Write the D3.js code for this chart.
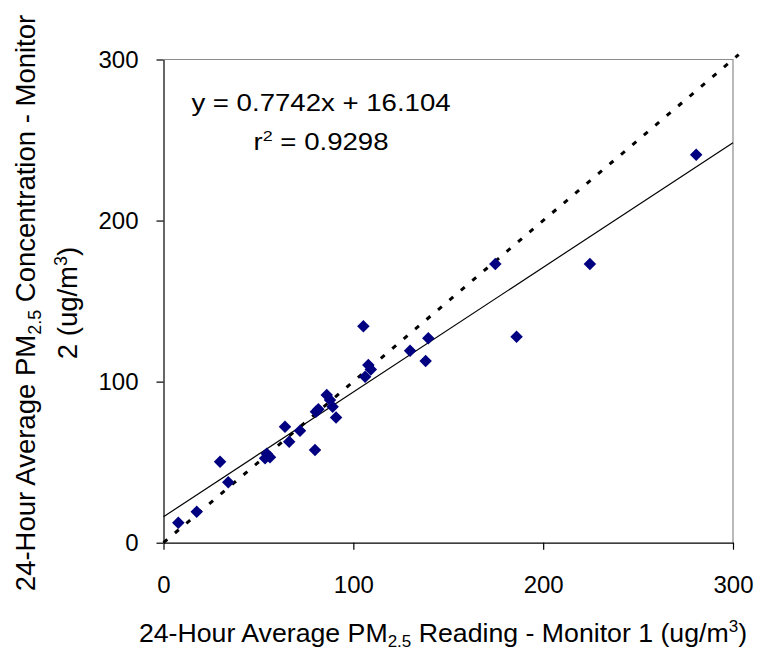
<!DOCTYPE html>
<html>
<head>
<meta charset="utf-8">
<script src="https://cdn.jsdelivr.net/npm/d3@7"></script>
<style>
    body { margin: 0; background: #fff; }
    text { font-family: "Liberation Sans", Arial, sans-serif; fill: #000; }
</style>
</head>
<body>
<svg id="mainFrame"></svg>
<script>
// Paired 24-hour PM2.5 readings (ug/m3).
const monitor1 = [7.8, 17.5, 29.8, 34.1, 53.5, 54.4, 56.1, 64, 66.2, 71.9, 79.8, 80.3, 81.6, 86,
    87.7, 89.1, 90.9, 105.3, 106.2, 107.9, 109.2, 129.9, 138.1, 139.5, 174.8, 186, 224.6, 280.6];
const monitor2 = [12.4, 19.2, 50.2, 37.5, 52.4, 55.3, 53.0, 72, 62.7, 69.5, 57.5, 81.3, 82.8, 91.7,
    88.6, 84.4, 77.8, 134.4, 103, 110.3, 107.6, 119.2, 112.8, 126.9, 173.1, 127.8, 173.1, 240.8];

// Trendline as printed on the chart, plus the 1:1 reference line.
const slope = 0.7742;
const intercept = 16.104;
const rSquared = 0.9298;
const trendX = [0, 300];
const oneToOne = [0, 303];

const tickValues = [0, 100, 200, 300];

const width = 761, height = 654;
const svg = d3.select('#mainFrame')
    .attr('width', width)
    .attr('height', height);

// Plot area bounds in pixels.
const margin = { top: 59.5, right: 28, bottom: 111.3, left: 163.5 };
const innerW = width - margin.left - margin.right;
const innerH = height - margin.top - margin.bottom;

const g = svg.append('g')
    .attr('transform', `translate(${margin.left},${margin.top})`);

const x = d3.scaleLinear().domain([0, 300]).range([0, innerW]);
const y = d3.scaleLinear().domain([0, 300]).range([innerH, 0]);

// Grey frame on top and right, black axis lines on left and bottom.
g.append('path')
    .attr('d', `M0,0H${innerW}V${innerH}`)
    .attr('fill', 'none')
    .attr('stroke', '#8c8c8c')
    .attr('stroke-width', 1.2);

const xAxis = g.append('g')
    .attr('transform', `translate(0,${innerH})`)
    .call(d3.axisBottom(x).tickValues(tickValues).tickSize(7).tickSizeOuter(0).tickPadding(26));

const yAxis = g.append('g')
    .call(d3.axisLeft(y).tickValues(tickValues).tickSize(7).tickSizeOuter(0).tickPadding(18));

[xAxis, yAxis].forEach(a => {
    a.select('.domain').attr('stroke', '#000').attr('stroke-width', 1.2);
    a.selectAll('.tick line').attr('stroke', '#000').attr('stroke-width', 1.2);
    a.selectAll('.tick text')
        .attr('font-size', 24)
        .attr('font-family', '"Liberation Sans", Arial, sans-serif')
        .attr('fill', '#000');
});

// 1:1 line, heavy dots.
g.append('path')
    .datum(oneToOne)
    .attr('d', d3.line().x(d => x(d)).y(d => y(d)))
    .attr('fill', 'none')
    .attr('stroke', '#000')
    .attr('stroke-width', 3)
    .attr('stroke-dasharray', '5,10');

// Linear fit.
g.append('path')
    .datum(trendX)
    .attr('d', d3.line().x(d => x(d)).y(d => y(slope * d + intercept)))
    .attr('fill', 'none')
    .attr('stroke', '#000')
    .attr('stroke-width', 1.2);

// Diamond markers.
const points = monitor1.map((v, i) => ({ x: v, y: monitor2[i] }));
g.selectAll('path.pt').data(points)
    .join('path')
    .attr('class', 'pt')
    .attr('d', d3.symbol(d3.symbolSquare, 78))
    .attr('transform', d => `translate(${x(d.x)},${y(d.y)}) rotate(45)`)
    .attr('fill', '#000080');

// Equation label, drawn slightly wide like the original.
const eq = svg.append('g')
    .attr('transform', 'translate(321,0) scale(1.2,1)');
eq.append('text')
    .attr('y', 111)
    .attr('text-anchor', 'middle')
    .attr('font-size', 23)
    .text(`y = ${slope}x + ${intercept}`);
const r2 = eq.append('text')
    .attr('y', 150)
    .attr('text-anchor', 'middle')
    .attr('font-size', 23);
r2.append('tspan').text('r');
r2.append('tspan').attr('dy', -9).attr('font-size', 15).text('2');
r2.append('tspan').attr('dy', 9).text(` = ${rSquared}`);

// X axis title.
const xt = svg.append('text')
    .attr('x', 443)
    .attr('y', 642)
    .attr('text-anchor', 'middle')
    .attr('font-size', 26.7);
xt.append('tspan').text('24-Hour Average PM');
xt.append('tspan').attr('dy', 5).attr('font-size', 17).text('2.5');
xt.append('tspan').attr('dy', -5).text(' Reading - Monitor 1 (ug/m');
xt.append('tspan').attr('dy', -10).attr('font-size', 17).text('3');
xt.append('tspan').attr('dy', 10).text(')');

// Y axis title, two lines.
const yt = svg.append('g')
    .attr('transform', 'translate(0,303) rotate(-90)');
const yl1 = yt.append('text')
    .attr('x', 0)
    .attr('y', 35)
    .attr('text-anchor', 'middle')
    .attr('font-size', 27.5);
yl1.append('tspan').text('24-Hour Average PM');
yl1.append('tspan').attr('dy', 6).attr('font-size', 18).text('2.5');
yl1.append('tspan').attr('dy', -6).text(' Concentration - Monitor');
const yl2 = yt.append('text')
    .attr('x', 0)
    .attr('y', 77)
    .attr('text-anchor', 'middle')
    .attr('font-size', 27.5);
yl2.append('tspan').text('2 (ug/m');
yl2.append('tspan').attr('dy', -10).attr('font-size', 18).text('3');
yl2.append('tspan').attr('dy', 10).text(')');
</script>
</body>
</html>
